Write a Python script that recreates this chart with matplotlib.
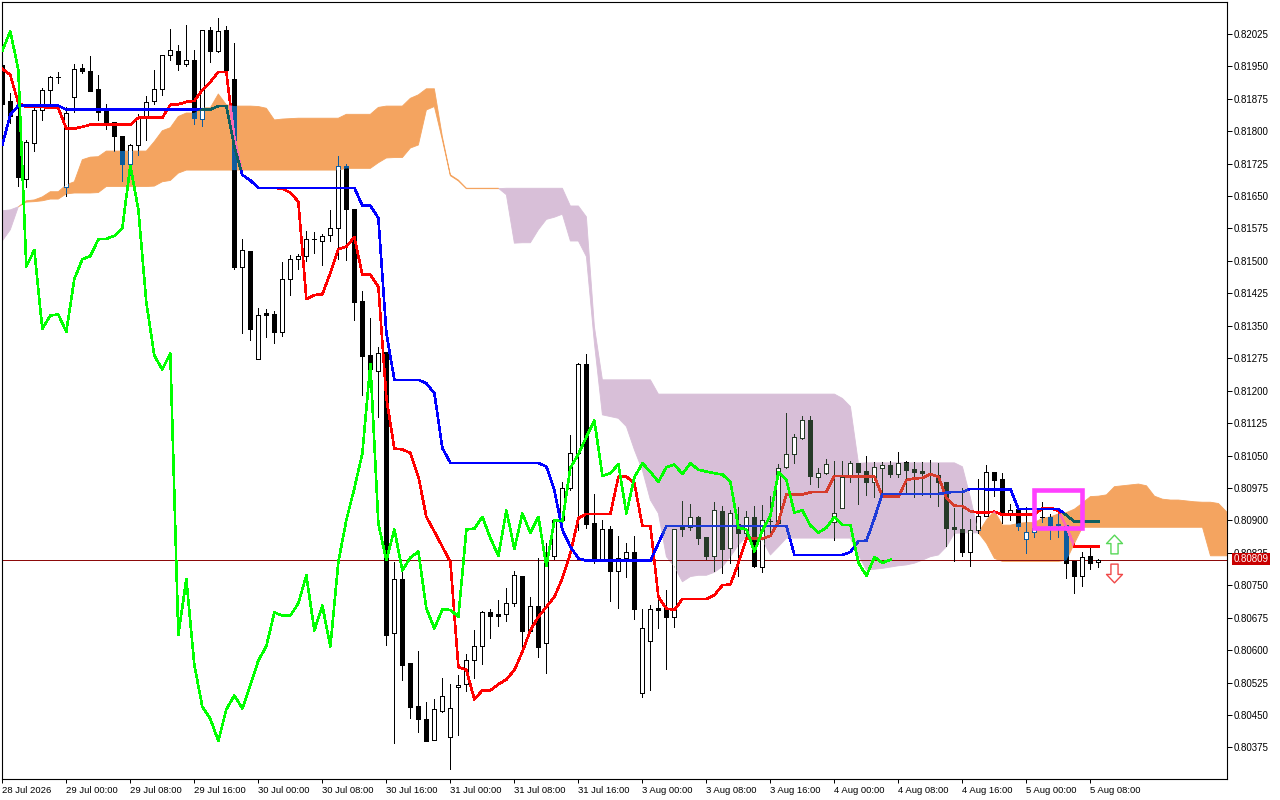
import numpy as np
import matplotlib
matplotlib.use('Agg')
import matplotlib.pyplot as plt
from matplotlib.path import Path
from matplotlib.patches import Rectangle

# prices are written in 1/100000 and divided below
opens = [81953,81870,81835,81690,81772,81848,81895,81925,81672,81880,
         81946,81939,81898,81847,81821,81789,81723,81767,81830,81869,
         81897,81976,81986,81956,81965,81829,82033,81986,82034,81921,
         81487,81522,81272,81380,81377,81336,81458,81504,81511,81550,
         81547,81559,81577,81720,81619,81407,81283,81246,81289,80640,
         80764,80570,80471,80441,80393,80460,80398,80514,80521,80576,
         80609,80687,80683,80683,80708,80771,80645,80703,80616,80818,
         80901,80974,81055,81262,80893,80810,80879,80784,80812,80826,
         80500,80622,80697,80697,80677,80885,80884,80908,80861,80818,
         80922,80835,80891,80871,80908,80793,80899,80893,81024,81053,
         81091,81131,81001,81009,80897,80929,81001,81032,81014,80989,
         81022,81029,81008,81036,81019,81014,81008,81006,80989,80885,
         80880,80828,80877,80910,81011,80996,80915,80926,80858,80872,
         80907,80908,80891,80889,80805,80772,80817,80804]
highs = [81960,81888,81857,81780,81858,81899,81928,81937,81857,81956,
         81956,81974,81930,81863,81821,81789,81770,81840,81882,81942,
         81976,82037,82000,82046,81988,82033,82040,82061,82044,82003,
         81551,81524,81390,81389,81384,81498,81514,81516,81568,81566,
         81562,81618,81743,81724,81619,81431,81368,81302,81289,80804,
         80785,80570,80598,80479,80488,80535,80521,80542,80592,80646,
         80690,80696,80717,80743,80783,80771,80722,80812,80847,80901,
         80988,81097,81265,81285,80961,80901,80887,80864,80847,80864,
         80694,80704,80719,80739,80881,80945,80938,80910,80861,80942,
         80933,80924,80932,80922,80933,80935,80956,81030,81148,81099,
         81141,81141,81020,81041,81038,81038,81037,81032,81049,81035,
         81035,81038,81057,81038,81034,81034,81039,81032,80989,80928,
         80976,80903,80995,81028,81011,81009,80938,80926,80932,80916,
         80942,80915,80920,80892,80805,80826,80837,80811]
lows = [81855,81820,81674,81670,81755,81826,81857,81911,81651,81845,
        81934,81894,81826,81805,81753,81685,81699,81745,81780,81863,
        81884,81965,81942,81951,81817,81812,81959,81982,81942,81482,
        81333,81317,81272,81325,81311,81327,81421,81482,81500,81519,
        81491,81545,81505,81501,81363,81190,81232,81138,80612,80386,
        80531,80444,80411,80390,80393,80457,80324,80404,80506,80535,
        80569,80629,80656,80668,80703,80600,80639,80585,80546,80810,
        80897,80970,80878,80883,80801,80808,80714,80697,80770,80673,
        80491,80508,80651,80557,80654,80864,80878,80845,80811,80783,
        80779,80801,80772,80855,80793,80781,80870,80892,81022,81033,
        81088,80984,80978,81007,80855,80929,80988,80938,80959,80955,
        80955,81000,81001,80963,80953,80959,80955,80933,80841,80805,
        80818,80794,80870,80909,80956,80895,80901,80878,80825,80862,
        80897,80857,80862,80767,80733,80749,80787,80793]
closes = [81863,81834,81693,81774,81848,81895,81925,81926,81842,81943,
          81940,81894,81845,81815,81788,81723,81767,81830,81867,81897,
          81976,81987,81956,81964,81831,82033,81986,82031,81942,81487,
          81525,81343,81374,81376,81336,81458,81504,81511,81550,81551,
          81558,81576,81720,81619,81404,81281,81249,81286,80635,80764,
          80566,80469,80441,80390,80463,80495,80465,80520,80576,80609,
          80687,80680,80680,80708,80773,80645,80703,80608,80804,80901,
          80974,81055,81262,80892,80808,80879,80784,80814,80828,80696,
          80650,80694,80693,80677,80879,80881,80908,80859,80818,80923,
          80834,80916,80871,80908,80795,80900,80898,81022,81053,81093,
          81131,81003,81009,81030,80916,81000,81032,81012,80989,81023,
          81029,81007,81032,81017,81013,81009,81006,80989,80883,80879,
          80828,80877,80911,81011,80993,80918,80923,80888,80872,80883,
          80908,80889,80889,80802,80772,80815,80802,80809]

tenkan = [81944,81930,81865,81856,81856,81856,81854,81853,81806,81806,
          81810,81815,81815,81815,81815,81815,81815,81831,81831,81831,
          81831,81861,81862,81868,81870,81895,81914,81937,81937,81784,
          81699,81686,81669,81669,81669,81667,81658,81637,81412,81421,
          81423,81472,81527,81533,81555,81468,81468,81440,81183,81066,
          81064,81056,81001,80908,80874,80839,80804,80561,80554,80486,
          80507,80507,80521,80532,80554,80596,80646,80677,80700,80723,
          80766,80824,80905,80915,80915,80915,80915,81001,81001,80986,
          80887,80887,80723,80696,80693,80718,80718,80718,80718,80727,
          80750,80752,80801,80858,80858,80858,80864,80897,80960,80960,
          80960,80965,80966,80966,81003,81003,81001,81001,81001,81001,
          80955,80955,80955,80993,80997,80998,81007,81001,80951,80934,
          80933,80921,80918,80918,80920,80913,80913,80913,80913,80913,
          80929,80929,80922,80885,80839,80839,80839,80839]
kijun = [81768,81838,81859,81859,81859,81859,81859,81859,81850,81850,
         81850,81850,81850,81850,81850,81850,81850,81850,81850,81850,
         81850,81850,81850,81850,81850,81850,81850,81858,81858,81764,
         81699,81686,81669,81669,81669,81669,81669,81669,81669,81669,
         81669,81669,81669,81669,81669,81628,81628,81599,81333,81225,
         81225,81225,81225,81217,81194,81067,81033,81033,81033,81033,
         81033,81033,81033,81033,81033,81033,81033,81033,81024,80970,
         80878,80839,80812,80807,80807,80807,80807,80807,80807,80807,
         80807,80807,80847,80887,80887,80887,80887,80887,80887,80887,
         80887,80887,80887,80887,80887,80887,80887,80887,80887,80820,
         80820,80820,80820,80820,80820,80820,80827,80852,80853,80905,
         80961,80961,80961,80961,80961,80961,80961,80961,80964,80966,
         80966,80973,80973,80972,80972,80972,80972,80926,80926,80926,
         80926,80926,80926,80912,80897,80897,80897,80897]
chikou = [81986,82031,81942,81487,81525,81343,81374,81376,81336,81458,
          81504,81511,81550,81551,81558,81576,81720,81619,81404,81281,
          81249,81286,80635,80764,80566,80469,80441,80390,80463,80495,
          80465,80520,80576,80609,80687,80680,80680,80708,80773,80645,
          80703,80608,80804,80901,80974,81055,81262,80892,80808,80879,
          80784,80814,80828,80696,80650,80694,80693,80677,80879,80881,
          80908,80859,80818,80923,80834,80916,80871,80908,80795,80900,
          80898,81022,81053,81093,81131,81003,81009,81030,80916,81000,
          81032,81012,80989,81023,81029,81007,81032,81017,81013,81009,
          81006,80989,80883,80879,80828,80877,80911,81011,80993,80918,
          80923,80888,80872,80883,80908,80889,80889,80802,80772,80815,
          80802,80809]
span_a = [81546,81572,81625,81639,81641,81648,81660,81660,81676,81683,
          81734,81740,81741,81754,81754,81754,81754,81754,81754,81776,
          81801,81808,81834,81842,81842,81854,81854,81886,81861,81858,
          81858,81858,81857,81853,81826,81828,81829,81830,81830,81830,
          81830,81830,81830,81839,81839,81839,81839,81855,81858,81858,
          81858,81876,81884,81898,81898,81787,81699,81687,81668,81668,
          81668,81668,81668,81653,81541,81542,81542,81572,81596,81601,
          81608,81546,81546,81510,81310,81144,81140,81136,81117,81063,
          81016,80947,80916,80816,80793,80758,80770,80773,80773,80780,
          80793,80816,80843,80862,80854,80854,80820,80839,80859,80859,
          80859,80859,80859,80859,80859,80859,80859,80820,80785,80787,
          80789,80792,80795,80797,80801,80808,80816,80820,80839,80870,
          80871,80871,80871,80901,80922,80889,80889,80893,80895,80895,
          80905,80908,80915,80918,80926,80940,80955,80956,80959,80978,
          80980,80982,80984,80980,80956,80949,80947,80947,80945,80943,
          80942,80942,80939,80920]
span_b = [81616,81618,81625,81636,81637,81639,81643,81643,81655,81657,
          81657,81657,81658,81672,81672,81672,81672,81672,81672,81673,
          81683,81686,81703,81710,81710,81710,81710,81710,81710,81710,
          81710,81710,81710,81710,81710,81710,81710,81710,81710,81710,
          81710,81710,81710,81714,81714,81714,81714,81727,81738,81739,
          81739,81761,81768,81849,81857,81780,81697,81685,81667,81667,
          81667,81667,81667,81668,81668,81668,81668,81668,81668,81668,
          81668,81627,81627,81602,81348,81225,81225,81225,81225,81225,
          81225,81225,81192,81192,81192,81192,81192,81192,81192,81192,
          81192,81192,81192,81192,81192,81192,81192,81192,81192,81192,
          81192,81192,81192,81192,81192,81182,81163,81032,81033,81033,
          81033,81033,81033,81033,81033,81033,81033,81033,81033,81033,
          81024,80952,80871,80847,80812,80805,80805,80805,80805,80805,
          80805,80805,80805,80808,80847,80884,80884,80884,80884,80884,
          80884,80884,80884,80884,80884,80884,80884,80884,80884,80884,
          80884,80818,80818,80818]

time_labels = ['28 Jul 2026','29 Jul 00:00','29 Jul 08:00','29 Jul 16:00','30 Jul 00:00',
               '30 Jul 08:00','30 Jul 16:00','31 Jul 00:00','31 Jul 08:00','31 Jul 16:00',
               '3 Aug 00:00','3 Aug 08:00','3 Aug 16:00','4 Aug 00:00','4 Aug 08:00',
               '4 Aug 16:00','5 Aug 00:00','5 Aug 08:00']
price_ticks = [80375,80450,80525,80600,80675,80750,80825,80900,80975,81050,81125,81200,
               81275,81350,81425,81500,81575,81650,81725,81800,81875,81950,82025]
last_price = 80809
y_min, y_max = 80301, 82098
box_bars = (129, 135)
box_prices = (80883, 80970)
arrow_bar = 139
up_arrow_price = 80846
down_arrow_price = 80779

opens = np.array(opens) / 1e5
highs = np.array(highs) / 1e5
lows = np.array(lows) / 1e5
closes = np.array(closes) / 1e5
tenkan = np.array(tenkan) / 1e5
kijun = np.array(kijun) / 1e5
chikou = np.array(chikou) / 1e5
span_a = np.array(span_a) / 1e5
span_b = np.array(span_b) / 1e5
x = np.arange(len(opens))
x_cloud = np.arange(len(span_a))

plt.rcParams['font.family'] = ['Liberation Sans', 'DejaVu Sans']
fig = plt.figure(figsize=(12.8, 8), dpi=100)
ax = fig.add_axes([2.3 / 1280, 20.6 / 800, 1225 / 1280, 777.1 / 800])

orange = ax.fill_between(x_cloud, span_a, span_b, where=span_a >= span_b, interpolate=True,
                         facecolor='#f4a460', edgecolor='#f4a460', linewidth=0.6, zorder=1)
purple = ax.fill_between(x_cloud, span_a, span_b, where=span_a <= span_b, interpolate=True,
                         facecolor='#d8bfd8', edgecolor='#d8bfd8', linewidth=0.6, zorder=1)
orange_path = Path.make_compound_path(*orange.get_paths())
purple_path = Path.make_compound_path(*purple.get_paths())

ax.axhline(last_price / 1e5, color='#8c0a0a', lw=0.72, zorder=1.5, antialiased=False)


def draw_candles(color, clip=None, z=2):
    up = closes >= opens
    wicks = ax.vlines(x, lows, highs, colors=color, lw=0.72, zorder=z, antialiased=False)
    white = ax.bar(x[up], (closes - opens)[up], bottom=opens[up], width=0.5, facecolor='white',
                   edgecolor=color, linewidth=0.72, zorder=z, antialiased=False)
    dark = ax.bar(x[~up], (closes - opens)[~up], bottom=opens[~up], width=0.5, facecolor=color,
                  edgecolor=color, linewidth=0.72, zorder=z, antialiased=False)
    if clip is not None:
        wicks.set_clip_path(clip, ax.transData)
        for b in list(white) + list(dark):
            b.set_clip_path(clip, ax.transData)


def draw_line(values, color, clip=None, z=4):
    line, = ax.plot(x[:len(values)], values, color=color, lw=1.15, zorder=z, antialiased=False,
                    solid_joinstyle='round')
    if clip is not None:
        line.set_clip_path(clip, ax.transData)


draw_candles('black')
draw_candles('#0d5c9e', orange_path, 2.1)
draw_candles('#263a28', purple_path, 2.1)

draw_line(tenkan, '#ff0000')
draw_line(tenkan, '#ff69b4', orange_path, 4.1)
draw_line(tenkan, '#d63c2c', purple_path, 4.1)
draw_line(kijun, '#0000ff', z=4.2)
draw_line(kijun, '#0f5f5f', orange_path, 4.3)
draw_line(kijun, '#1e3cd8', purple_path, 4.3)
draw_line(chikou, '#00ff00', z=4.5)

box = Rectangle((box_bars[0], box_prices[0] / 1e5), box_bars[1] - box_bars[0],
                (box_prices[1] - box_prices[0]) / 1e5, fill=False, edgecolor='#ff40ff',
                linewidth=3.3, joinstyle='miter', zorder=6)
ax.add_patch(box)

arrow_up = Path([(0, 1), (0.85, 0.1), (0.38, 0.1), (0.38, -1), (-0.38, -1), (-0.38, 0.1), (-0.85, 0.1), (0, 1)], closed=True)
arrow_down = Path([(0, -1), (0.85, -0.1), (0.38, -0.1), (0.38, 1), (-0.38, 1), (-0.38, -0.1), (-0.85, -0.1), (0, -1)], closed=True)
ax.plot([arrow_bar], [up_arrow_price / 1e5], marker=arrow_up, ms=13.5, mfc='white', mec='#58d858', mew=1.0, zorder=6)
ax.plot([arrow_bar], [down_arrow_price / 1e5], marker=arrow_down, ms=13.5, mfc='white', mec='#f04848', mew=1.0, zorder=6)

ax.set_xlim(0, 153.1)
ax.set_ylim(y_min / 1e5, y_max / 1e5)

ax.set_xticks(np.arange(len(time_labels)) * 8)
ax.set_xticklabels(time_labels, ha='left')
ax.set_yticks(np.array(price_ticks) / 1e5)
ax.set_yticklabels(['%.5f' % (p / 1e5) for p in price_ticks])
ax.yaxis.tick_right()
ax.tick_params(axis='x', length=3, width=0.72, pad=2, labelsize=6.8)
ax.tick_params(axis='y', length=3.6, width=0.72, pad=1, labelsize=7)
for s in ax.spines.values():
    s.set_linewidth(0.8)

ax.annotate('%.5f' % (last_price / 1e5), xy=(1, last_price / 1e5),
            xycoords=('axes fraction', 'data'), xytext=(4.5, 0.5), textcoords='offset points',
            va='center', ha='left', color='white', fontsize=7, annotation_clip=False, zorder=10,
            bbox=dict(boxstyle='square,pad=0.15', facecolor='#c80000', edgecolor='none'))

fig.savefig('out.png', dpi=100)
